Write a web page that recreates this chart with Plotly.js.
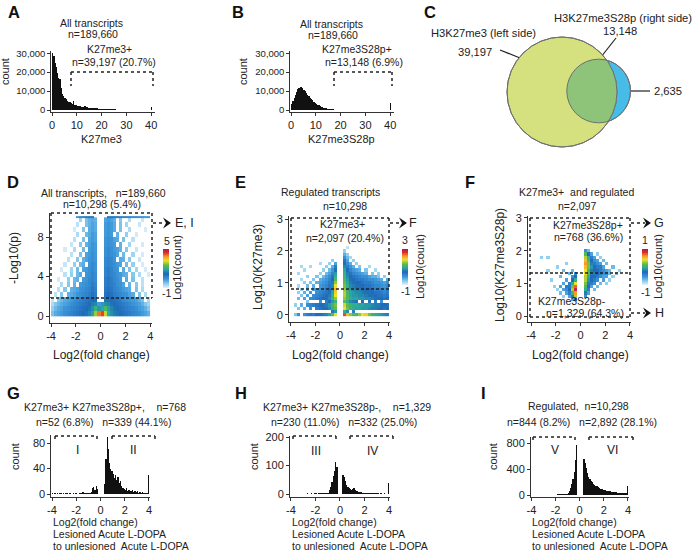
<!DOCTYPE html>
<html><head><meta charset="utf-8">
<script src="https://cdn.plot.ly/plotly-3.0.1.min.js"></script>
<style>html,body{margin:0;padding:0;background:#fff}#chart{width:695px;height:555px}</style>
</head><body><div id="chart"></div>
<script>
const _ = null;
// ================= DATA =================
// A, B: histograms with 0.5-wide bins starting at 0 (last bin collects values >= 40)
const k27me3Counts = [30000,28500,25000,22500,19500,17000,16500,11500,8500,7300,
  6300,5700,4900,4400,4000,3500,3300,5000,2700,2500,
  2300,2100,1900,1800,1700,1600,2100,1450,1350,1250,
  1150,1100,1000,950,880,820,1000,720,660,620,
  570,530,490,460,430,400,375,350,330,310,
  290,270,255,240,225,210,200,190,180,170,
  160,150,142,135,128,120,114,108,102,96,
  90,85,80,76,72,68,64,60,57,54,1600];
const k27me3S28pCounts = [3200,4800,6200,8000,9600,10900,11700,12200,12300,11600,
  10800,9800,9000,8100,7300,6600,5800,5100,4400,3800,
  3300,2800,2400,2000,1700,1450,1200,1000,850,700,
  580,480,400,330,270,225,190,160,135,115,
  88,78,70,62,56,50,45,41,37,34,
  31,28,26,24,22,20,19,18,17,16,
  15,14,13,12,12,11,11,10,10,9,
  9,8,8,8,7,7,7,6,6,6,3600];
// C: Venn counts
const vennLeftN = 39197, vennRightN = 13148, vennRightOnlyN = 2635;
// D: volcano density, log10(count); columns = log2 fold bins of 0.25 from -4, rows = -log10(p) bins of 0.5 from 0
const volcanoLog10Count = [
 [-0.2,0.1,0.2,0.3,0.5,0.6,0.7,0.8,0.9,1.0,1.2,1.3,1.5,1.8,2.8,4.0, 4.3,3.0,1.9,1.6,1.4,1.3,1.1,1.0,0.9,0.8,0.7,0.6,0.5,0.3,0.2,0.0],
 [-0.4,-0.1,0.1,0.2,0.4,0.5,0.6,0.7,0.8,0.9,1.0,1.2,1.3,1.6,2.1,1.7, 1.9,2.3,1.8,1.5,1.3,1.2,1.0,0.9,0.8,0.7,0.6,0.5,0.3,0.2,0.0,-0.3],
 [-0.6,-0.3,-0.1,0.1,0.2,0.3,0.5,0.6,0.7,0.8,0.9,1.0,1.2,1.4,1.5,0.3, 0.5,1.6,1.5,1.3,1.1,1.0,0.9,0.8,0.7,0.6,0.4,0.3,0.2,0.0,-0.3,-0.5],
 [-0.8,_,-0.3,-0.1,0.1,0.2,0.3,0.5,0.6,0.7,0.8,0.9,1.0,1.2,1.2,_, _,1.3,1.3,1.1,1.0,0.9,0.8,0.6,0.5,0.4,0.3,0.2,0.0,-0.2,_,-0.6],
 [_,-0.7,_,-0.3,_,0.0,0.1,0.2,0.4,0.5,0.6,0.7,0.8,1.0,0.85,_, _,1.0,1.1,1.0,0.8,0.7,0.6,0.5,0.4,0.2,0.1,_,-0.2,_,-0.6,_],
 [_,_,-0.7,_,-0.3,_,0.0,0.1,0.2,0.4,0.5,0.6,0.7,0.9,0.75,_, _,0.9,1.0,0.9,0.7,0.6,0.5,0.3,0.2,0.1,_,-0.2,_,-0.6,_,_],
 [_,_,_,-0.6,_,-0.3,_,0.0,_,0.3,0.4,0.5,0.6,0.8,0.65,_, _,0.8,0.9,0.8,0.7,0.5,0.4,0.2,_,0.0,_,-0.3,_,-0.7,_,_],
 [_,_,-0.9,_,_,-0.4,_,-0.1,0.0,_,0.3,0.4,0.6,0.7,0.55,_, _,0.8,0.9,0.8,0.6,0.5,0.3,_,0.1,_,-0.2,_,_,-0.7,_,_],
 [_,_,_,_,-0.7,_,-0.4,_,-0.1,0.1,_,0.4,0.5,0.7,0.55,_, _,0.7,0.8,0.7,0.6,0.4,0.3,0.1,0.0,_,-0.3,_,-0.6,_,_,-0.9],
 [_,_,_,-0.9,_,_,-0.5,_,-0.1,_,0.2,0.3,0.5,0.6,0.45,_, _,0.7,0.8,0.7,0.5,0.4,_,0.1,_,-0.2,_,-0.5,_,_,-0.9,_],
 [_,_,_,_,-0.8,_,_,-0.4,_,-0.1,0.1,_,0.4,0.6,0.45,_, _,0.6,0.7,0.6,0.5,0.3,0.2,_,-0.1,_,-0.4,_,_,-0.9,_,_],
 [_,_,_,_,_,-0.7,_,_,-0.3,_,0.0,0.2,0.4,0.5,0.35,_, _,0.6,0.7,0.6,0.4,_,0.1,0.0,_,-0.3,_,_,-0.8,_,_,_],
 [_,_,_,_,_,_,-0.7,_,_,-0.2,_,0.2,0.3,0.5,0.35,_, _,0.5,0.6,0.5,0.4,0.2,_,-0.1,_,_,-0.5,_,_,-0.9,_,_],
 [_,_,_,_,-0.9,_,_,-0.6,_,_,-0.1,_,0.3,0.4,0.3,_, _,0.5,0.6,0.5,0.3,0.2,0.0,_,-0.3,_,_,-0.8,_,_,_,_],
 [_,_,_,_,_,_,-0.8,_,_,-0.3,_,0.0,0.2,0.4,0.3,_, _,0.4,0.5,0.4,0.3,_,0.0,_,_,-0.5,_,_,_,-0.9,_,_],
 [_,_,_,_,_,_,_,-0.7,_,_,-0.2,_,0.2,0.3,0.2,_, _,0.4,0.5,0.4,0.2,0.1,_,-0.2,_,_,-0.7,_,_,_,_,_],
 [_,_,_,_,_,_,_,_,-0.6,_,_,-0.1,0.1,0.3,0.2,_, _,0.3,0.4,0.3,_,0.0,_,_,-0.4,_,_,-0.9,_,_,_,_],
 [_,_,_,_,_,_,_,-0.9,_,_,-0.3,_,0.1,0.2,0.1,_, _,0.3,0.4,0.3,0.1,_,-0.2,_,_,-0.6,_,_,_,_,-0.9,_],
 [_,_,_,_,_,_,_,_,-0.7,_,_,-0.2,0.0,0.2,0.1,_, _,0.3,0.4,0.3,0.1,_,-0.2,_,-0.5,_,_,_,-0.8,_,_,_],
 [_,_,_,_,_,_,_,_,_,-0.5,_,-0.2,0.0,0.1,0.0,_, _,0.2,0.3,0.2,0.0,_,-0.3,_,_,-0.6,_,_,_,-0.8,_,_]
];
// D: points with -log10(p) capped at 10 (one row at the top)
const volcanoCappedLog10Count = [
 [_,_,_,_,_,_,_,_,0.3,0.6,0.7,0.8,0.9,0.9,_,_, _,_,0.9,0.9,0.8,0.8,0.7,0.7,0.6,0.6,0.5,0.5,0.4,0.4,0.3,0.3]
];
// E: log10(count); columns = log2 fold bins of 0.25 from -4, rows = Log10(K27me3) bins of 0.1 from 0
const k27FoldLog10Count = [
 [_,-0.5,0.0,_,0.0,0.2,0.3,0.2,0.4,0.5,0.6,0.7,0.9,1.3,1.8,_, _,2.5,2.0,1.5,1.3,1.2,1.5,1.8,1.9,1.4,1.1,1.0,0.9,0.8,0.7,0.6],
 [_,_,_,_,_,_,_,_,_,_,_,_,_,0.3,0.8,_, _,1.0,0.7,_,0.2,_,_,_,_,_,_,_,_,_,_,_],
 [_,_,-0.5,_,-0.3,_,0.0,_,0.2,0.3,0.4,0.5,0.7,1.0,1.3,_, _,1.8,1.4,1.1,1.0,0.9,0.9,0.8,0.8,0.7,0.6,0.6,0.5,0.4,0.3,0.4],
 [_,-0.6,_,-0.3,_,0.0,0.1,0.2,0.3,0.4,0.5,0.6,0.8,1.1,1.4,_, _,1.7,1.3,1.1,1.0,1.0,0.9,0.9,0.8,0.8,0.7,0.6,0.6,0.5,0.4,0.5],
 [_,_,_,_,_,-0.5,_,_,_,0.0,_,0.2,0.4,0.8,1.1,_, _,1.3,1.0,0.7,0.6,0.5,_,0.4,_,0.3,_,0.2,_,0.0,_,_],
 [_,_,-0.4,_,-0.2,_,0.0,0.1,0.2,0.3,0.4,0.5,0.7,1.1,1.5,_, _,1.5,1.2,1.0,0.9,0.9,0.8,0.8,0.7,0.7,0.6,0.5,0.5,0.4,0.3,0.4],
 [_,_,_,-0.5,_,-0.2,_,0.0,0.1,0.2,0.3,0.4,0.6,1.0,1.8,_, _,1.6,1.2,0.9,0.8,0.8,0.7,0.7,0.6,0.5,0.5,0.4,0.3,0.3,0.2,0.3],
 [_,_,-0.6,_,-0.3,_,-0.1,_,0.0,0.1,0.2,0.3,0.5,0.9,1.9,_, _,1.6,1.1,0.9,0.8,0.7,0.7,0.6,0.5,0.5,0.4,0.3,0.3,0.2,0.1,0.2],
 [_,_,_,-0.6,_,-0.3,_,-0.2,-0.1,0.0,0.1,0.2,0.4,0.8,2.0,_, _,1.5,1.1,0.8,0.7,0.6,0.6,0.5,0.4,0.4,0.3,0.2,0.2,0.1,0.0,0.2],
 [_,_,-0.7,_,_,-0.4,_,-0.3,_,-0.1,0.0,0.1,0.3,0.7,1.8,_, _,1.4,1.0,0.7,0.6,0.5,0.5,0.4,0.3,0.3,0.2,0.1,0.1,0.0,-0.1,0.1],
 [_,_,_,_,-0.6,_,-0.5,_,-0.3,-0.2,-0.1,0.0,0.2,0.6,1.5,_, _,1.3,0.9,0.6,0.5,0.4,0.4,0.3,0.2,0.2,0.1,0.0,0.0,-0.1,-0.2,0.0],
 [_,_,_,-0.7,_,_,_,-0.5,_,-0.3,-0.2,-0.1,0.1,0.4,1.2,_, _,1.2,0.8,0.5,0.4,0.3,0.2,0.2,0.1,0.0,0.0,-0.1,-0.2,-0.3,_,-0.2],
 [_,_,_,_,_,-0.6,_,_,-0.5,_,-0.4,-0.2,0.0,0.3,1.0,_, _,1.1,0.7,0.4,0.3,0.2,0.1,0.0,0.0,-0.2,-0.3,-0.3,-0.5,_,-0.6,_],
 [_,_,-0.7,_,_,_,_,_,_,-0.6,_,-0.4,-0.2,0.1,0.8,_, _,1.0,0.6,0.3,0.1,0.0,-0.1,-0.2,-0.3,_,-0.5,_,-0.6,_,_,_],
 [_,_,_,_,-0.7,_,_,_,_,_,-0.6,_,-0.4,-0.1,0.5,_, _,0.9,0.4,0.1,-0.1,-0.2,-0.3,_,-0.5,_,_,-0.7,_,_,_,_],
 [_,_,_,-0.7,_,_,-0.7,_,_,_,_,-0.6,_,-0.3,0.2,_, _,0.7,0.2,-0.1,-0.3,_,-0.5,_,_,-0.7,_,_,_,_,_,_],
 [_,_,_,_,_,_,_,_,_,-0.7,_,_,-0.6,_,-0.2,_, _,0.5,0.0,-0.3,_,-0.6,_,_,_,_,_,_,_,_,_,_],
 [_,_,_,_,_,_,_,_,_,_,_,_,_,-0.6,_,_, _,0.3,-0.2,_,-0.6,_,_,_,_,_,_,_,_,_,_,_],
 [_,_,_,_,_,_,_,_,_,_,_,_,_,_,_,_, _,0.0,-0.4,-0.7,_,_,_,_,_,_,_,_,_,_,_,_],
 [_,_,_,_,_,_,_,_,_,_,_,_,_,_,_,_, _,-0.3,-0.6,_,_,_,_,_,_,_,_,_,_,_,_,_],
 [_,_,_,_,_,_,_,_,_,_,_,_,_,_,_,_, _,-0.6,_,_,_,_,_,_,_,_,_,_,_,_,_,_],
 [_,_,_,_,_,_,_,_,_,_,_,_,_,_,_,_, _,_,-0.8,_,_,_,_,_,_,_,_,_,_,_,_,_]
];
// F: log10(count); columns = log2 fold bins of 0.25 from -4, rows = Log10(K27me3S28p) bins of 0.1 from 0.5
const s28FoldLog10Count = [
 [_,_,_,_,_,_,_,_,_,_,_,_,_,-0.6,-0.3,_, _,_,_,_,_,_,_,_,_,_,_,_,_,_,_,_],
 [_,_,_,_,_,_,_,_,_,_,-0.8,_,-0.6,-0.2,0.3,_, _,-0.5,_,_,_,_,_,_,_,_,_,_,_,_,_,_],
 [_,_,_,_,_,_,_,_,_,-0.7,_,-0.6,-0.4,0.1,0.6,_, _,-0.2,-0.6,_,_,_,_,_,_,_,_,_,_,_,_,_],
 [_,_,_,_,_,_,_,_,-0.8,_,-0.6,-0.5,-0.3,0.3,0.9,_, _,0.0,-0.4,_,-0.7,_,_,_,_,_,_,_,_,_,_,_],
 [_,_,_,_,_,_,_,-0.8,_,-0.6,_,-0.4,-0.2,0.2,0.7,_, _,0.1,-0.3,-0.6,_,-0.7,_,_,_,_,_,_,_,_,_,_],
 [_,_,_,_,_,_,_,_,_,_,-0.6,_,-0.4,0.0,0.4,_, _,0.2,-0.2,-0.4,-0.5,_,-0.7,_,-0.8,_,_,_,_,_,_,_],
 [_,_,_,_,_,_,-0.8,_,_,_,_,-0.6,_,-0.3,0.0,_, _,0.3,-0.1,-0.3,-0.4,-0.5,_,-0.6,_,-0.8,_,_,_,_,_,_],
 [_,_,_,_,_,_,_,_,_,-0.7,_,_,_,-0.5,-0.3,_, _,0.3,0.0,-0.3,-0.3,-0.4,-0.5,-0.6,-0.6,_,-0.8,_,_,_,_,_],
 [_,_,_,_,_,_,_,_,_,_,_,_,-0.7,_,-0.5,_, _,0.4,0.1,-0.2,-0.2,-0.3,-0.4,-0.5,-0.5,-0.7,_,-0.7,_,_,_,_],
 [_,_,_,_,_,-0.8,_,_,_,_,-0.7,_,_,-0.7,_,_, _,0.4,0.1,-0.2,-0.3,-0.3,-0.4,-0.5,-0.6,-0.7,_,_,-0.8,_,_,_],
 [_,_,_,_,_,_,_,_,-0.8,_,_,_,_,_,_,_, _,0.5,0.2,-0.1,-0.3,-0.4,-0.4,-0.6,_,_,-0.7,_,_,_,_,_],
 [_,_,_,_,_,_,_,_,_,_,_,-0.8,_,_,_,_, _,0.6,0.2,-0.2,-0.4,-0.5,-0.6,_,-0.7,_,_,_,_,_,_,_],
 [_,_,_,_,_,_,_,_,_,_,_,_,_,_,_,_, _,0.5,0.1,-0.3,-0.5,-0.6,_,-0.7,_,_,_,_,_,_,_,_],
 [_,_,_,-0.8,_,-0.8,_,_,_,_,_,_,_,_,_,_, _,0.3,0.0,-0.4,-0.6,_,-0.8,_,_,_,_,_,_,_,_,_],
 [_,_,_,_,_,_,_,_,_,_,_,_,_,_,_,_, _,0.1,-0.3,-0.6,_,-0.8,_,_,_,_,_,_,_,_,_,_],
 [_,_,_,_,_,_,_,_,_,_,_,_,_,_,_,_, _,-0.5,-0.7,_,_,_,_,_,_,_,_,_,_,_,_,_]
];
// G, H, I: histograms of log2 fold change, 0.1-wide bins from -4 (last bin collects values >= 4)
const foldHistG = [1,0,1,0,1,0,1,1,0,1, 0,1,1,0,1,1,0,1,0,1, 1,0,1,1,2,3,1,2,1,1, 1,2,3,9,11,7,12,8,0,0,
  0,0,0,15,55,89,70,48,40,36, 32,25,30,22,27,18,20,12,10,8, 6,9,5,7,4,5,6,3,5,3, 4,2,3,2,3,1,2,1,1,30];
const foldHistH = [1,1,0,1,1,1,0,1,1,1, 1,1,1,2,1,1,2,1,1,2, 2,1,2,2,3,2,2,3,3,4, 5,14,25,42,62,80,113,95,0,0,
  0,0,66,58,45,32,26,22,18,15, 16,21,14,12,10,8,7,6,5,5, 4,4,3,4,3,3,2,3,2,2, 2,2,1,2,1,1,2,1,1,40];
const foldHistI = [5,4,5,4,5,5,4,5,5,5, 5,6,5,6,6,5,6,7,6,7, 7,8,8,9,10,11,12,14,16,20, 30,60,110,170,250,360,540,770,0,0,
  0,0,0,550,500,410,340,280,240,210, 195,175,160,145,135,120,110,100,90,82, 75,70,65,60,57,54,50,48,45,43, 40,38,36,35,33,32,30,29,28,140];
const foldTickVals = [-4,-2,0,2,4];
const foldTickText = ['-4','-2','0','2','4'];

// ================= STYLE / LAYOUT =================
const W = 695, H = 555;
const FONT = '"Liberation Sans", Arial, Helvetica, sans-serif';
const INK = '#222';
const CS = [[0,'#e2f2fa'],[0.1,'#92d0f0'],[0.22,'#3e99db'],[0.36,'#1e68ba'],[0.48,'#2aa9a0'],
            [0.58,'#5cbb45'],[0.7,'#ebe02a'],[0.8,'#f39a28'],[0.9,'#e2302a'],[1,'#a3195b']];
const AX = {showline:true, linecolor:'#333', linewidth:1, ticks:'outside', ticklen:3, tickwidth:1,
  tickcolor:'#333', showgrid:false, zeroline:false, fixedrange:true,
  tickfont:{family:FONT, size:11, color:INK}};

const layout = {width:W, height:H, margin:{l:0,r:0,t:0,b:0}, paper_bgcolor:'#fff',
  plot_bgcolor:'rgba(0,0,0,0)', showlegend:false, bargap:0, font:{family:FONT, color:INK, size:11}};
function addAxes(n, xPx, yPx, xr, yr, xo, yo) {
  const s = n === 1 ? '' : String(n);
  layout['xaxis' + s] = Object.assign({}, AX, {domain:[xPx[0]/W, xPx[1]/W], range:xr, anchor:'y' + s}, xo || {});
  layout['yaxis' + s] = Object.assign({}, AX, {domain:[1 - yPx[1]/H, 1 - yPx[0]/H], range:yr, anchor:'x' + s}, yo || {});
}
const foldX = {tickvals:foldTickVals, ticktext:foldTickText};
const countTicks = {tickvals:[0,10000,20000,30000], ticktext:['0','10,000','20,000','30,000'], tickfont:{family:FONT,size:9.5,color:INK}};
addAxes(1, [51.3,154.9], [51.3,112], [-0.3,41.5], [-1056,31000], {tickvals:[0,10,20,30,40]}, countTicks);
addAxes(2, [290.3,393.9], [51.3,112], [-0.3,41.5], [-1056,31000], {tickvals:[0,10,20,30,40]}, countTicks);
addAxes(3, [470,690], [20,160], [0,220], [0,140], {visible:false}, {visible:false});
addAxes(4, [49.8,152.1], [213.4,323], [-4.1,4.15], [-0.71,10.4], foldX, {tickvals:[0,4,8]});
addAxes(5, [289,390.2], [215.8,322], [-4.16,4.1], [-0.22,3.1], foldX, {tickvals:[0,1,2,3]});
addAxes(6, [528,631.2], [216.3,322], [-4.245,4.1], [-0.18,3.05], foldX, {tickvals:[0,1,2,3]});
addAxes(7, [51.4,150.2], [435.4,497], [-4.05,4.1], [-4.7,92], foldX, {tickvals:[0,40,80]});
addAxes(8, [290,390.2], [435.6,497], [-4.08,4.1], [-10.5,205], foldX, {tickvals:[0,100,200]});
addAxes(9, [531,629.2], [436.5,497], [-4.03,4.1], [-30.8,900], foldX, {tickvals:[0,400,800]});

// ================= TRACES =================
function histTrace(counts, x0, dx, n) {
  return {type:'bar', y:counts, x0:x0, dx:dx, width:dx, marker:{color:'#111', line:{width:0}},
    xaxis:'x' + n, yaxis:'y' + n, hoverinfo:'skip'};
}
function cbar(leftPx, topPx, botPx) {
  return {x:leftPx/W, xanchor:'left', y:1 - (topPx + botPx)/2/H, yanchor:'middle', len:botPx - topPx,
    lenmode:'pixels', thickness:6, thicknessmode:'pixels', outlinewidth:0, showticklabels:false,
    ticks:'', xpad:0, ypad:0};
}
const traces = [
  Object.assign(histTrace(k27me3Counts, 0.25, 0.5, ''), {xaxis:'x', yaxis:'y'}),
  histTrace(k27me3S28pCounts, 0.25, 0.5, 2),
  {type:'scatter', x:[], y:[], xaxis:'x3', yaxis:'y3', hoverinfo:'skip'},
  {type:'heatmap', z:volcanoLog10Count, x0:-3.875, dx:0.25, y0:0.25, dy:0.5, zmin:-1, zmax:5,
   colorscale:CS, xaxis:'x4', yaxis:'y4', hoverinfo:'skip', colorbar:cbar(163,249,288)},
  {type:'heatmap', z:volcanoCappedLog10Count, x0:-3.875, dx:0.25, y0:10, dy:0.25, zmin:-1, zmax:5,
   colorscale:CS, showscale:false, xaxis:'x4', yaxis:'y4', hoverinfo:'skip'},
  {type:'heatmap', z:k27FoldLog10Count, x0:-3.875, dx:0.25, y0:0, dy:0.1, zmin:-1, zmax:3,
   colorscale:CS, xaxis:'x5', yaxis:'y5', hoverinfo:'skip', colorbar:cbar(402,249,285)},
  {type:'heatmap', z:s28FoldLog10Count, x0:-3.875, dx:0.25, y0:0.5, dy:0.1, zmin:-1, zmax:1,
   colorscale:CS, xaxis:'x6', yaxis:'y6', hoverinfo:'skip', colorbar:cbar(642,249,285)},
  histTrace(foldHistG, -3.95, 0.1, 7),
  histTrace(foldHistH, -3.95, 0.1, 8),
  histTrace(foldHistI, -3.95, 0.1, 9)
];

// ================= ANNOTATIONS & SHAPES =================
const ann = [], shapes = [];
function T(x, y, text, size, o) {
  ann.push(Object.assign({xref:'paper', yref:'paper', x:x/W, y:1 - y/H, text:text, showarrow:false,
    xanchor:'center', yanchor:'middle', borderpad:0, font:{family:FONT, size:size || 10.5, color:INK}}, o || {}));
}
const ROT = {textangle:-90};
function L(x1, y1, x2, y2, dash, w) {
  shapes.push({type:'line', xref:'paper', yref:'paper', x0:x1/W, y0:1 - y1/H, x1:x2/W, y1:1 - y2/H,
    line:{color:INK, width:w || 1.5, dash:dash || 'solid'}});
}
function bracket(x1, x2, yt, yb) { L(x1,yt,x2,yt,'dot'); L(x1,yt,x1,yb,'dot'); L(x2,yt,x2,yb,'dot'); }
function arrow(x1, x2, tip, y) {
  L(x1, y, x2, y, 'dot');
  const p = (a, b) => (a/W).toFixed(5) + ',' + (1 - b/H).toFixed(5);
  shapes.push({type:'path', xref:'paper', yref:'paper',
    path:'M' + p(tip,y) + 'L' + p(tip-8,y-5.5) + 'L' + p(tip-5,y) + 'L' + p(tip-8,y+5.5) + 'Z',
    fillcolor:'#111', line:{width:0}});
}
// panel letters
[['A',14,12],['B',238,12],['C',430,12],['D',13,182],['E',240,182],['F',470,182],['G',14,393],['H',241,393],['I',483,393]]
  .forEach(d => T(d[1], d[2], '<b>' + d[0] + '</b>', 16, {font:{family:FONT, size:16.5, color:'#111'}}));
// A
T(91,23,'All transcripts'); T(93,33.5,'n=189,660'); T(110,49,'K27me3+'); T(114,62,'n=39,197 (20.7%)');
T(101,139,'K27me3',11); T(5,72,'count',11,ROT);
bracket(71,153,72,86);
// B
T(331,24,'All transcripts'); T(333,34.5,'n=189,660'); T(357,49,'K27me3S28p+'); T(364,62,'n=13,148 (6.9%)');
T(341,139,'K27me3S28p',11); T(243,72,'count',11,ROT);
bracket(334,392,72,86);
// C Venn labels
T(483,33,'H3K27me3 (left side)',11.2); T(475,52,'39,197',11.2);
T(553,18,'H3K27me3S28p (right side)',11.2,{xanchor:'left'}); T(620,31,'13,148',11.2); T(668,91,'2,635',11.2);
L(500,50,520,58,'solid',1.2); L(616,38,601,57,'solid',1.2); L(628,91,650,91,'solid',1.2);
// D
T(103,193,'All transcripts,\u00a0\u00a0 n=189,660'); T(102,204,'n=10,298 (5.4%)');
T(14,258,'-Log10(p)',12,ROT); T(101,355,'Log2(fold change)',12);
T(184,223,'E, I',12.5); T(167,241,'5'); T(166,293,'-1'); T(177,268,'Log10(count)',11,ROT);
L(51,213,152,213,'dot'); L(51,213,51,298,'dot'); L(152,213,152,298,'dot'); L(51,298,152,298,'3px,2px',1.4);
arrow(153,165,171,223);
// E
T(330,192,'Regulated transcripts'); T(345,206,'n=10,298'); T(342.5,224,'K27me3+'); T(345,238,'n=2,097 (20.4%)');
T(258,267,'Log10(K27me3)',12,ROT); T(340,355,'Log2(fold change)',12);
T(413,223,'F',12.5); T(405,240,'3'); T(405,291,'-1'); T(420,267,'Log10(count)',11,ROT);
L(291,218,389,218,'dot'); L(291,218,291,289,'dot'); L(389,218,389,289,'dot'); L(291,289,389,289,'3px,2px',1.4);
arrow(390,401,407,223);
// F
T(576.5,192,'K27me3+\u00a0 and regulated'); T(577,206,'n=2,097'); T(587.5,225,'K27me3S28p+'); T(588,237,'n=768 (36.6%)');
T(571.5,301,'K27me3S28p-'); T(585,313,'n=1,329 (64.3%)');
T(500,265,'Log10(K27me3S28p)',12,ROT); T(580,355,'Log2(fold change)',12);
T(659,223,'G',12.5); T(659,313,'H',12.5); T(645,240,'1'); T(645,292,'-1'); T(658,267,'Log10(count)',11,ROT);
L(530,218,630,218,'dot'); L(530,218,530,317,'dot'); L(630,218,630,317,'dot'); L(530,317,630,317,'dot');
L(530,273,630,273,'3px,2px',1.4);
arrow(631,645,651,223); arrow(631,645,651,313);
// G, H, I
function lowerTexts(xLeft) {
  T(xLeft,522,'Log2(fold change)',10.5,{xanchor:'left'});
  T(xLeft,534,'Lesioned Acute L-DOPA',10.5,{xanchor:'left'});
  T(xLeft,546,'to unlesioned\u00a0 Acute L-DOPA',10.5,{xanchor:'left'});
}
T(105,407,'K27me3+ K27me3S28p+,\u00a0\u00a0\u00a0 n=768'); T(103,422,'n=52 (6.8%)\u00a0\u00a0 n=339 (44.1%)');
T(15,457,'count',11,ROT); T(77,450,'I',12); T(133,450,'II',12);
bracket(55,97,436,442); bracket(112,155,436,442); lowerTexts(52);
T(347,407,'K27me3+ K27me3S28p-,\u00a0\u00a0\u00a0 n=1,329'); T(344,422,'n=230 (11.0%)\u00a0\u00a0 n=332 (25.0%)');
T(254,457,'count',11,ROT); T(316,451,'III',12); T(372,451,'IV',12);
bracket(293,336,436,442); bracket(350,393,436,442); lowerTexts(291);
T(578,406,'Regulated,\u00a0 n=10,298'); T(581.5,422,'n=844 (8.2%)\u00a0\u00a0 n=2,892 (28.1%)');
T(493,457,'count',11,ROT); T(555,450,'V',12); T(612,450,'VI',12);
bracket(533,575,437,443); bracket(589,633,437,443); lowerTexts(531);

// ================= VENN (area-proportional) =================
const R1 = 55;
const R2 = R1 * Math.sqrt(vennRightN / vennLeftN);
const overlapTarget = Math.PI * R1 * R1 * (vennRightN - vennRightOnlyN) / vennLeftN;
function lensArea(r1, r2, d) {
  if (d >= r1 + r2) return 0;
  if (d <= Math.abs(r1 - r2)) return Math.PI * Math.min(r1, r2) ** 2;
  const a1 = r1*r1*Math.acos((d*d + r1*r1 - r2*r2)/(2*d*r1));
  const a2 = r2*r2*Math.acos((d*d + r2*r2 - r1*r1)/(2*d*r2));
  const a3 = 0.5*Math.sqrt((-d+r1+r2)*(d+r1-r2)*(d-r1+r2)*(d+r1+r2));
  return a1 + a2 - a3;
}
let lo = Math.abs(R1 - R2), hi = R1 + R2;
for (let i = 0; i < 60; i++) { const m = (lo + hi)/2; if (lensArea(R1, R2, m) > overlapTarget) lo = m; else hi = m; }
const D = (lo + hi)/2;
const C1 = [92, 68], C2 = [92 + D, 69];
const OUT = '#6f6f6f';
function circ(c, r, fill, lineW) {
  return {type:'circle', xref:'x3', yref:'y3', x0:c[0]-r, x1:c[0]+r, y0:c[1]-r, y1:c[1]+r,
    fillcolor:fill, line:{color:OUT, width:lineW}};
}
shapes.push(circ(C2, R2, '#47bce9', 1));
shapes.push(circ(C1, R1, '#d5e17f', 1));
(function lens() {
  const dx = C2[0] - C1[0], dy = C2[1] - C1[1], dd = Math.hypot(dx, dy), ang = Math.atan2(dy, dx);
  const a = (dd*dd + R1*R1 - R2*R2)/(2*dd), h = Math.sqrt(R1*R1 - a*a);
  const t1 = Math.atan2(h, a), t2 = Math.atan2(h, dd - a);
  const pts = [];
  for (let i = 0; i <= 40; i++) { const t = ang - t1 + 2*t1*i/40; pts.push([C1[0] + R1*Math.cos(t), C1[1] + R1*Math.sin(t)]); }
  for (let i = 0; i <= 40; i++) { const t = ang + Math.PI - t2 + 2*t2*i/40; pts.push([C2[0] + R2*Math.cos(t), C2[1] + R2*Math.sin(t)]); }
  const path = 'M' + pts.map(p => p[0].toFixed(3) + ',' + p[1].toFixed(3)).join('L') + 'Z';
  shapes.push({type:'path', xref:'x3', yref:'y3', path:path, fillcolor:'#8dc47a', line:{width:0}});
})();
shapes.push(circ(C2, R2, 'rgba(0,0,0,0)', 1));
shapes.push(circ(C1, R1, 'rgba(0,0,0,0)', 1));

layout.annotations = ann;
layout.shapes = shapes;
Plotly.newPlot('chart', traces, layout, {staticPlot:true, displayModeBar:false});
</script></body></html>
